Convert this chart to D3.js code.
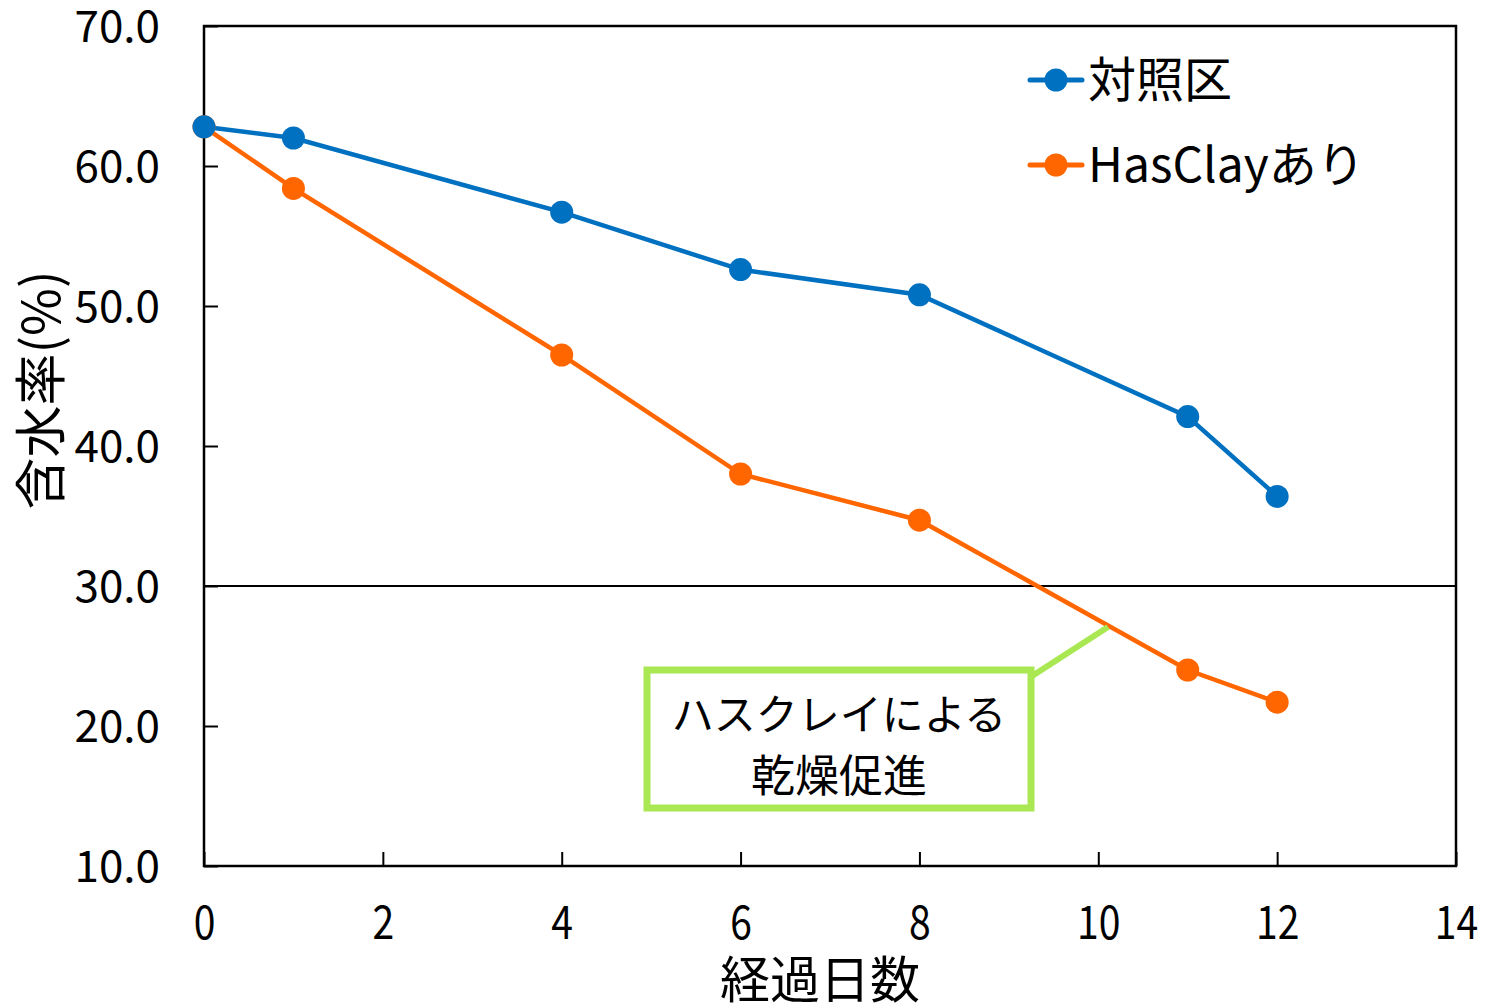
<!DOCTYPE html>
<html>
<head>
<meta charset="utf-8">
<script src="https://cdn.jsdelivr.net/npm/d3@7"></script>
<style>
  body { margin: 0; background: #fff; }
  text { font-family: "Noto Sans CJK JP", "Noto Sans", sans-serif; fill: #000; }
</style>
</head>
<body>
<svg id="chart"></svg>
<script>
// data
const days = [0, 1, 4, 6, 8, 11, 12];
const controlValues = [62.8, 62.0, 56.7, 52.6, 50.8, 42.1, 36.4];
const hasclayValues = [62.8, 58.4, 46.5, 38.0, 34.7, 24.0, 21.7];
const seriesNames = ["対照区", "HasClayあり"];
const seriesColors = ["#0070C0", "#FF6600"];
const xTicks = [0, 2, 4, 6, 8, 10, 12, 14];
const yTicks = [10, 20, 30, 40, 50, 60, 70];

let margin = {top: 26, right: 30, bottom: 142, left: 204},
    width = 1486 - margin.left - margin.right,
    height = 1008 - margin.top - margin.bottom;

let svg = d3.select("#chart")
    .attr("width", 1486)
    .attr("height", 1008);

let g = svg.append("g").attr("transform", `translate(${margin.left},${margin.top})`);

let x = d3.scaleLinear().domain([0, 14]).range([0, width]);
let y = d3.scaleLinear().domain([10, 70]).range([height, 0]);

// frame
g.append("rect")
    .attr("width", width).attr("height", height)
    .attr("fill", "none").attr("stroke", "#000").attr("stroke-width", 2.5);

// reference line at 30%
g.append("line")
    .attr("x1", 0).attr("x2", width)
    .attr("y1", y(30)).attr("y2", y(30))
    .attr("stroke", "#000").attr("stroke-width", 2);

// x axis, ticks pointing inward
let xAxis = g.append("g")
    .attr("transform", `translate(0,${height})`)
    .call(d3.axisBottom(x).tickValues(xTicks).tickSize(-14).tickPadding(40).tickFormat(d3.format("d")));
xAxis.select(".domain").remove();
xAxis.selectAll("line").attr("stroke-width", 2);
xAxis.selectAll(".tick text")
    .style("font-size", "46px")
    .attr("dy", "0.71em")
    .attr("transform", "scale(0.85,1)");

// y axis
let yAxis = g.append("g")
    .call(d3.axisLeft(y).tickValues(yTicks).tickSize(-14).tickPadding(44).tickFormat(d3.format(".1f")));
yAxis.select(".domain").remove();
yAxis.selectAll("line").attr("stroke-width", 2);
yAxis.selectAll("text").style("font-size", "44px").attr("dy", "0.36em");

// series lines and points
const series = [controlValues, hasclayValues];
let line = d3.line().x((d, i) => x(days[i])).y(d => y(d));

series.forEach((vals, s) => {
    g.append("path")
        .datum(vals)
        .attr("d", line)
        .attr("fill", "none")
        .attr("stroke", seriesColors[s])
        .attr("stroke-width", 4.5);
});
series.slice().reverse().forEach((vals, r) => {
    let s = series.length - 1 - r;
    g.selectAll(".dot" + s)
        .data(vals)
        .enter().append("circle")
        .attr("cx", (d, i) => x(days[i]))
        .attr("cy", d => y(d))
        .attr("r", 11.5)
        .attr("fill", seriesColors[s]);
});

// legend
let legend = svg.append("g").attr("transform", "translate(1030,80)");
seriesNames.forEach((name, i) => {
    let row = legend.append("g").attr("transform", `translate(0,${i * 85})`);
    row.append("line").attr("x1", 0).attr("x2", 52)
        .attr("stroke", seriesColors[i]).attr("stroke-width", 5).attr("stroke-linecap", "round");
    row.append("circle").attr("cx", 26).attr("r", 11.5).attr("fill", seriesColors[i]);
    row.append("text").attr("x", 58).attr("dy", "0.36em")
        .style("font-size", "48px").text(name);
});

// callout
const boxX = 647, boxY = 670, boxW = 384, boxH = 138;
svg.append("line")
    .attr("x1", boxX + boxW - 2).attr("y1", boxY + 8)
    .attr("x2", 1108).attr("y2", 627)
    .attr("stroke", "#A9E852").attr("stroke-width", 6);
svg.append("rect")
    .attr("x", boxX).attr("y", boxY).attr("width", boxW).attr("height", boxH)
    .attr("fill", "#fff").attr("stroke", "#A9E852").attr("stroke-width", 7);
svg.append("text")
    .attr("x", boxX + boxW / 2).attr("y", 730)
    .attr("text-anchor", "middle").style("font-size", "42px")
    .text("ハスクレイによる");
svg.append("text")
    .attr("x", boxX + boxW / 2).attr("y", 792)
    .attr("text-anchor", "middle").style("font-size", "44px")
    .text("乾燥促進");

// axis titles
svg.append("text")
    .attr("x", 820).attr("y", 998)
    .attr("text-anchor", "middle").style("font-size", "50px")
    .text("経過日数");

svg.append("text")
    .attr("transform", "translate(60,390) rotate(-90)")
    .attr("text-anchor", "middle").style("font-size", "52px")
    .text("含水率(%)");
</script>
</body>
</html>
